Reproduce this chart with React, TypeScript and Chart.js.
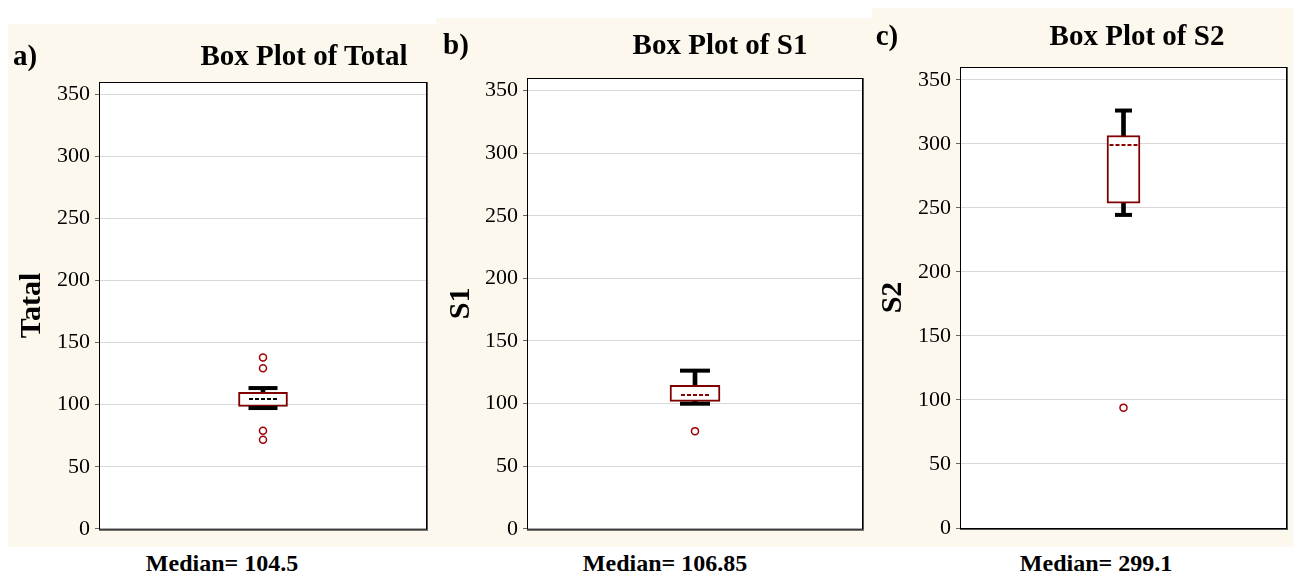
import React, { useEffect, useRef } from 'react';
import { Chart, registerables } from 'chart.js';

Chart.register(...registerables);

const SERIF = '"Liberation Serif", "Times New Roman", serif';
const CREAM = '#fdf8ee';
const BOX_RED = '#800000';
const OUTLIER_RED = '#a00000';

// Panel text
const panelLetters = ['a)', 'b)', 'c)'];
const panelTitles = ['Box Plot of Total', 'Box Plot of S1', 'Box Plot of S2'];
const axisTitles = ['Tatal', 'S1', 'S2'];
const variableNames = ['Total', 'S1', 'S2'];

// Box plot statistics per variable
const medians = [104.5, 106.85, 299.1];
const quartileLow = [98.7, 101.7, 253.7];
const quartileHigh = [110, 114.5, 306.5];
const whiskerLow = [97.3, 99.9, 244.5];
const whiskerHigh = [113.4, 126.3, 326];
const outliersTotal = [138, 129.3, 79, 71.8];
const outliersS1 = [78];
const outliersS2 = [94];
const outliers = [outliersTotal, outliersS1, outliersS2];

// Value axis
const yMin = 0;
const yMax = 360;
const yTickValues = [0, 50, 100, 150, 200, 250, 300, 350];

// Panel geometry (page pixels)
const panels = [
  {
    left: 8, top: 24, width: 428, height: 523, axisWidth: 91,
    pad: { top: 58, right: 9, bottom: 17 }, titlePad: 6,
    boxWidth: 49, capWidth: 29, medianColor: '#000000',
    letterX: 25, titleX: 304, headBaseline: 65, footX: 222,
  },
  {
    left: 436, top: 18, width: 436, height: 529, axisWidth: 91,
    pad: { top: 60, right: 9, bottom: 18 }, titlePad: 7,
    boxWidth: 50, capWidth: 30, medianColor: '#8b0000',
    letterX: 456, titleX: 720, headBaseline: 54, footX: 665,
  },
  {
    left: 872, top: 8, width: 421, height: 539, axisWidth: 88,
    pad: { top: 59, right: 6, bottom: 19 }, titlePad: 3,
    boxWidth: 33, capWidth: 17, medianColor: '#8b0000',
    letterX: 887, titleX: 1137, headBaseline: 45, footX: 1096,
  },
];

const FOOT_BASELINE = 571;

// Draws the white plot face, whisker caps, dashed median and frame.
const boxPlotExtras = {
  id: 'boxPlotExtras',
  beforeDraw(chart: any) {
    const { ctx, chartArea: a } = chart;
    ctx.save();
    ctx.fillStyle = '#ffffff';
    ctx.fillRect(a.left, a.top, a.right - a.left, a.bottom - a.top);
    ctx.restore();
  },
  afterDatasetsDraw(chart: any, _args: any, opts: any) {
    const { ctx } = chart;
    const xs = chart.scales.x;
    const ys = chart.scales.y;
    const cx = xs.getPixelForValue(0);
    ctx.save();
    ctx.strokeStyle = '#000000';
    ctx.lineWidth = 4;
    for (const v of [opts.whiskerLow, opts.whiskerHigh]) {
      const y = ys.getPixelForValue(v);
      ctx.beginPath();
      ctx.moveTo(cx - opts.capWidth / 2, y);
      ctx.lineTo(cx + opts.capWidth / 2, y);
      ctx.stroke();
    }
    const my = ys.getPixelForValue(opts.median);
    ctx.strokeStyle = opts.medianColor;
    ctx.lineWidth = 2;
    ctx.setLineDash([4, 2]);
    ctx.beginPath();
    ctx.moveTo(cx - 14, my);
    ctx.lineTo(cx + 14, my);
    ctx.stroke();
    ctx.restore();
  },
  afterDraw(chart: any) {
    const { ctx, chartArea: a } = chart;
    ctx.save();
    ctx.strokeStyle = '#000000';
    ctx.lineWidth = 1;
    ctx.strokeRect(a.left + 0.5, a.top + 0.5, a.right - a.left - 1, a.bottom - a.top);
    ctx.strokeStyle = '#555555';
    ctx.beginPath();
    ctx.moveTo(a.left, a.bottom + 1.5);
    ctx.lineTo(a.right + 1, a.bottom + 1.5);
    ctx.moveTo(a.right + 0.5, a.top);
    ctx.lineTo(a.right + 0.5, a.bottom + 1);
    ctx.stroke();
    ctx.restore();
  },
};

function Label(props: { text: string; cx: number; baseline: number; size: number }) {
  const { text, cx, baseline, size } = props;
  return (
    <div
      style={{
        position: 'absolute',
        left: cx - 300,
        width: 600,
        top: baseline - 0.8375 * size,
        fontSize: size,
        lineHeight: `${size}px`,
        fontFamily: SERIF,
        fontWeight: 'bold',
        textAlign: 'center',
        whiteSpace: 'nowrap',
        color: '#000',
      }}
    >
      {text}
    </div>
  );
}

function BoxPanel({ i }: { i: number }) {
  const ref = useRef<HTMLCanvasElement>(null);
  const p = panels[i];

  useEffect(() => {
    const name = variableNames[i];
    const chart = new Chart(ref.current as HTMLCanvasElement, {
      type: 'bar',
      data: {
        labels: [name],
        datasets: [
          {
            type: 'line',
            data: outliers[i].map((v) => ({ x: name, y: v })),
            showLine: false,
            pointRadius: 3.5,
            pointBorderWidth: 1.5,
            pointBorderColor: OUTLIER_RED,
            pointBackgroundColor: 'rgba(255,255,255,0)',
          } as any,
          {
            type: 'bar',
            data: [[quartileLow[i], quartileHigh[i]]],
            backgroundColor: '#ffffff',
            borderColor: BOX_RED,
            borderWidth: 2,
            borderSkipped: false,
            barThickness: p.boxWidth,
            grouped: false,
          } as any,
          {
            type: 'bar',
            data: [[whiskerLow[i], whiskerHigh[i]]],
            backgroundColor: '#000000',
            borderWidth: 0,
            barThickness: 4,
            grouped: false,
          } as any,
        ],
      },
      options: {
        responsive: false,
        animation: false,
        devicePixelRatio: 1,
        layout: { padding: { top: p.pad.top, right: p.pad.right, bottom: p.pad.bottom, left: 0 } },
        scales: {
          x: { type: 'category', display: false },
          y: {
            type: 'linear',
            min: yMin,
            max: yMax,
            ticks: {
              color: '#000',
              padding: 5,
              autoSkip: false,
              font: { family: SERIF, size: 22 },
            },
            afterBuildTicks: (s: any) => {
              s.ticks = yTickValues.map((v) => ({ value: v }));
            },
            afterFit: (s: any) => {
              s.width = p.axisWidth;
            },
            grid: { color: '#d9d9d9', lineWidth: 1, tickLength: 4, tickColor: '#666' },
            border: { display: false },
            title: {
              display: true,
              text: axisTitles[i],
              color: '#000',
              font: { family: SERIF, size: 30, weight: 'bold' },
              padding: { top: p.titlePad, bottom: 0 },
            },
          },
        },
        plugins: {
          legend: { display: false },
          tooltip: { enabled: false },
          boxPlotExtras: {
            whiskerLow: whiskerLow[i],
            whiskerHigh: whiskerHigh[i],
            median: medians[i],
            capWidth: p.capWidth,
            medianColor: p.medianColor,
          },
        } as any,
      },
      plugins: [boxPlotExtras],
    });
    return () => chart.destroy();
  }, []);

  return (
    <>
      <div
        style={{
          position: 'absolute',
          left: p.left,
          top: p.top,
          width: p.width,
          height: p.height,
          background: CREAM,
        }}
      >
        <canvas
          ref={ref}
          width={p.width}
          height={p.height}
          style={{ display: 'block', width: p.width, height: p.height }}
        />
      </div>
      <Label text={panelLetters[i]} cx={p.letterX} baseline={p.headBaseline} size={29} />
      <Label text={panelTitles[i]} cx={p.titleX} baseline={p.headBaseline} size={29} />
      <Label text={`Median= ${medians[i]}`} cx={p.footX} baseline={FOOT_BASELINE} size={24} />
    </>
  );
}

export default function App() {
  return (
    <div
      style={{
        position: 'fixed',
        left: 0,
        top: 0,
        width: 1293,
        height: 578,
        background: '#ffffff',
        overflow: 'hidden',
      }}
    >
      {panels.map((_, i) => (
        <BoxPanel key={i} i={i} />
      ))}
    </div>
  );
}
